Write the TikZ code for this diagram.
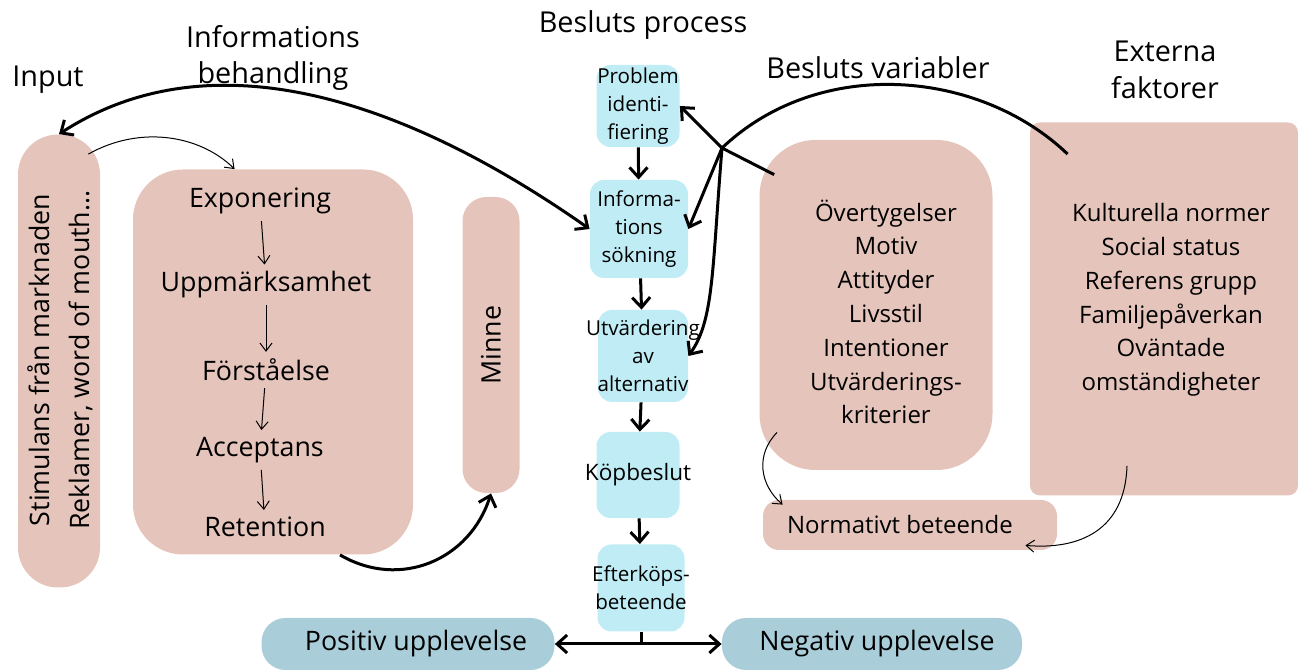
\documentclass[tikz,border=0pt]{standalone}
\usepackage{fontspec}
\setmainfont{Open Sans}
\usepackage{xcolor}
\usetikzlibrary{arrows.meta}
\usetikzlibrary{calc}

\definecolor{rosa}{HTML}{E5C5BB}
\definecolor{ljusbla}{HTML}{C0EDF5}
\definecolor{dovbla}{HTML}{A9CEDA}

\begin{document}
\begin{tikzpicture}[x=0.5pt,y=0.5pt,
  rosabox/.style={fill=rosa, rounded corners=18pt, inner sep=0pt},
  blabox/.style={fill=ljusbla, rounded corners=7pt, inner sep=0pt},
  blatext/.style={font=\fontsize{10.3}{14}\selectfont, align=center},
  stor/.style={font=\fontsize{13.4}{16.9}\selectfont, align=center},
  lista/.style={font=\fontsize{12}{16.9}\selectfont, align=center},
  rubrik/.style={font=\fontsize{14.4}{18.3}\selectfont, align=center},
  tunn/.style={-{Straight Barb[length=4pt,width=6pt]}, line width=0.5pt},
  tjock/.style={-{Straight Barb[length=5pt,width=9pt]}, line width=1.5pt},
]
\useasboundingbox (0,0) rectangle (1298,670);

% rubriker
\node[rubrik] (t-input) at (48,590) {Input};
\node[rubrik] (t-beh) at (273,612) {Informations\\behandling};
\node[rubrik] (t-process) at (643,645) {Besluts process};
\node[rubrik] (t-var) at (878,602) {Besluts variabler};
\node[rubrik, font=\fontsize{14.4}{18.5}\selectfont] (t-ext) at (1165,600) {Externa\\faktorer};

% input
\node[rosabox, minimum width=41pt, minimum height=226.5pt, rounded corners=20pt] (stim) at (59,309) {};
\node[stor, font=\fontsize{13.4}{20}\selectfont, rotate=90] (stimtext) at (60,310) {Stimulans från marknaden\\Reklamer, word of mouth...};

% informationsbehandling
\node[rosabox, minimum width=140pt, minimum height=192.5pt, rounded corners=25pt] (beh) at (273,308) {};
\node[stor] (expo) at (260,469) {Exponering};
\node[stor] (uppm) at (266,385) {Uppmärksamhet};
\node[stor] (forst) at (266,300) {Förståelse};
\node[stor] (accept) at (260,220) {Acceptans};
\node[stor] (ret) at (265,143) {Retention};
\draw[tunn] (expo) -- (uppm);
\draw[tunn] (uppm) -- (forst);
\draw[tunn] (forst) -- (accept);
\draw[tunn] (accept) -- (ret);

\node[rosabox, minimum width=28.5pt, minimum height=148pt, rounded corners=12pt] (minne) at (491,325) {};
\node[stor, rotate=90] (minnetext) at (minne) {Minne};

% beslutsprocess
\node[blabox, minimum width=41.5pt, minimum height=41pt, label={[blatext]center:Problem\\identi-\\fiering}] (prob) at (638,564) {};
\node[blabox, minimum width=49pt, minimum height=49pt, label={[blatext]center:Informa-\\tions\\sökning}] (info) at (639,441) {};
\node[blabox, minimum width=45pt, minimum height=46pt, label={[blatext]center:Utvärdering\\av\\alternativ}] (utv) at (643,314) {};
\node[blabox, minimum width=41.5pt, minimum height=43pt, label={[blatext, font=\fontsize{11.3}{14}\selectfont]center:Köpbeslut}] (kop) at (638,195) {};
\node[blabox, minimum width=43.5pt, minimum height=43.5pt, label={[blatext]center:Efterköps-\\beteende}] (efter) at (641,82) {};
\draw[tjock] (prob) -- (info);
\draw[tjock] (info) -- (utv);
\draw[tjock] (utv) -- (kop);
\draw[tjock] (kop) -- (efter);

\node[fill=dovbla, rounded corners=12pt, minimum width=146.5pt, minimum height=26pt] (pos) at (408,26) {};
\node[stor] (postext) at (416,26) {Positiv upplevelse};
\node[fill=dovbla, rounded corners=12pt, minimum width=150pt, minimum height=26pt] (neg) at (872,26) {};
\node[stor] (negtext) at (877,26) {Negativ upplevelse};
\draw[line width=1.5pt] (efter.south) -- ++(0,-13) coordinate (delning);
\draw[tjock, {Straight Barb[length=5pt,width=9pt]}-{Straight Barb[length=5pt,width=9pt]}] (pos.east) -- (neg.west);

% variabler och externa faktorer
\node[rosabox, minimum width=116.5pt, minimum height=165pt, rounded corners=28pt] (var) at (876,365) {};
\node[lista] (vartext) at (886,358) {Övertygelser\\Motiv\\Attityder\\Livsstil\\Intentioner\\Utvärderings-\\kriterier};
\node[rosabox, minimum width=134pt, minimum height=186.5pt, rounded corners=5pt] (ext) at (1164,361) {};
\node[lista] (exttext) at (1171,370) {Kulturella normer\\Social status\\Referens grupp\\Familjepåverkan\\Oväntade\\omständigheter};
\node[rosabox, minimum width=147pt, minimum height=25pt, rounded corners=8pt] (norm) at (910,145) {};
\node[lista] (normtext) at (900,145) {Normativt beteende};

% kopplingar
\coordinate (hub) at (722,522);
\draw[line width=1.5pt] ([shift={(15,-35)}]var.north west) -- (hub);
\draw[line width=1.5pt] (hub) .. controls (820,615) and (980,600) .. ([shift={(38,-32)}]ext.north west);
\draw[tjock] (hub) -- (prob.east);
\draw[tjock] (hub) -- (info.east);
\draw[tjock] (hub) .. controls (712,400) and (714,350) .. (utv.east);

\draw[tjock, {Straight Barb[length=5pt,width=9pt]}-{Straight Barb[length=5pt,width=9pt]}] (stim.north) .. controls (220,640) and (420,560) .. (info.west);
\draw[tunn] ([shift={(-12,-20)}]stim.north east) .. controls (140,545) and (200,535) .. ([shift={(102,0)}]beh.north west);
\draw[tjock] ([shift={(67,0)}]beh.south) .. controls (400,80) and (470,110) .. (minne.south);

\draw[tunn] ([shift={(18,38)}]var.south west) .. controls (755,215) and (760,185) .. ([shift={(20,-5)}]norm.north west);
\draw[tunn] ([shift={(-37,30)}]ext.south) .. controls (1125,140) and (1080,120) .. ([shift={(-32,5)}]norm.south east);

\end{tikzpicture}
\end{document}
